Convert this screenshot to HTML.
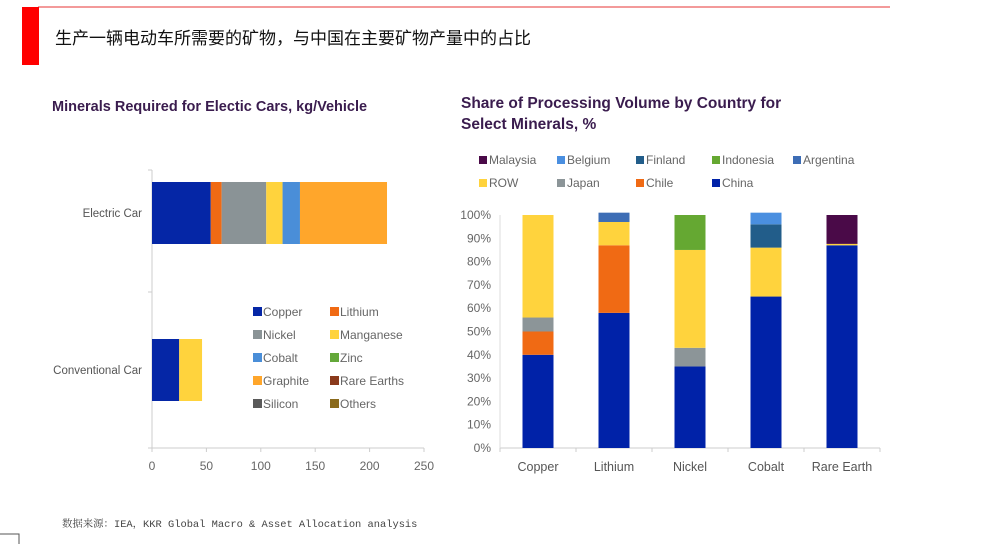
<!DOCTYPE html>
<html><head><meta charset="utf-8"><style>
body{margin:0;width:1000px;height:544px;background:#fff;overflow:hidden}
svg{display:block}
text{font-family:"Liberation Sans","Noto Sans CJK SC",sans-serif}
</style></head><body>
<svg id="s" width="1000" height="544" viewBox="0 0 1000 544">
<rect x="38" y="6" width="852" height="2" fill="#f39a9a"/>
<rect x="22" y="7" width="17" height="58" fill="#f00"/>
<text x="55" y="44" font-size="17" fill="#111">生产一辆电动车所需要的矿物，与中国在主要矿物产量中的占比</text>
<text x="52" y="111" font-size="14.5" font-weight="bold" fill="#3a1c4e">Minerals Required for Electic Cars, kg/Vehicle</text>
<text x="461" y="108" font-size="15.5" font-weight="bold" fill="#3a1c4e">Share of Processing Volume by Country for</text>
<text x="461" y="129" font-size="15.5" font-weight="bold" fill="#3a1c4e">Select Minerals, %</text>
<text x="62" y="527" font-size="10.4" fill="#444" style="font-family:'Liberation Mono','Noto Serif CJK SC',monospace">数据来源：IEA，KKR Global Macro &amp; Asset Allocation analysis</text>
<rect x="-1" y="534" width="20" height="12" fill="none" stroke="#555"/>
<g id="left"></g><g id="right"></g>
</svg>
<script>
// Left chart data
const leftCats = ["Electric Car","Conventional Car"];
const leftMinerals = ["Copper","Lithium","Nickel","Manganese","Cobalt","Zinc","Graphite","Rare Earths","Silicon","Others"];
const leftColors = ["#0526a6","#f06a14","#8a9396","#ffd33d","#4a8ed8","#64a83a","#ffa62b","#8a3a1c","#5a5a5a","#8a6a1c"];
const electricVals = [54,10,41,15,16,0,80,0,0,0];
const conventionalVals = [25,0,0,21,0,0,0,0,0,0];
const leftTicks = [0,50,100,150,200,250];
// Right chart data
const rightCats = ["Copper","Lithium","Nickel","Cobalt","Rare Earth"];
const countries = ["China","Chile","Japan","ROW","Argentina","Indonesia","Finland","Belgium","Malaysia"];
const countryColors = ["#0022a8","#f06a14","#8c9598","#ffd33d","#3d6db5","#65a832","#225d8a","#4a8fe0","#4a0a48"];
const chinaVals = [40,58,35,65,87];
const chileVals = [10,29,0,0,0];
const japanVals = [6,0,8,0,0];
const rowVals = [44,10,42,21,0.6];
const argentinaVals = [0,4,0,0,0];
const indonesiaVals = [0,0,15,0,0];
const finlandVals = [0,0,0,10,0];
const belgiumVals = [0,0,0,5,0];
const malaysiaVals = [0,0,0,0,12.4];
const rightTicks = [0,10,20,30,40,50,60,70,80,90,100];

const NS="http://www.w3.org/2000/svg";
function mk(p,tag,at,txt){const e=document.createElementNS(NS,tag);for(const k in at)e.setAttribute(k,at[k]);if(txt!==undefined)e.textContent=txt;p.appendChild(e);return e;}

// Left
const L=document.getElementById('left');
const lx=v=>152+v*(424-152)/250;
const lyC=[213,370], bh=62;
let ax=mk(L,'line',{x1:152,y1:170,x2:152,y2:448,stroke:'#ccc'});


ax=mk(L,'line',{x1:152,y1:448,x2:424,y2:448,stroke:'#ccc'});


[170,292,448].forEach(y=>{mk(L,'line',{x1:148,y1:y,x2:152,y2:y,stroke:'#ccc'});});
leftTicks.forEach(t=>{
  mk(L,'line',{x1:lx(t),y1:448,x2:lx(t),y2:452,stroke:'#ccc'});
  const e=mk(L,'text',{x:lx(t),y:470,'font-size':12,fill:'#666','text-anchor':'middle'},String(t));
  
  
});
[electricVals,conventionalVals].forEach((vals,ci)=>{
  const lab=mk(L,'text',{x:142,y:lyC[ci]+4,'font-size':11.5,fill:'#555','text-anchor':'end'},leftCats[ci]);
  
  
  let acc=0;
  vals.forEach((v,i)=>{ if(v<=0)return;
    const r=mk(L,'rect',{x:lx(acc),y:lyC[ci]-bh/2,width:lx(acc+v)-lx(acc),height:bh,fill:leftColors[i]});
    
    
    acc+=v;});
});
leftMinerals.forEach((m,i)=>{
  const x=i%2?330:253, y=312+Math.floor(i/2)*23;
  const g=mk(L,'g',{});
  
  
  mk(g,'rect',{x:x,y:y-5,width:9,height:9,fill:leftColors[i]});
  mk(g,'text',{x:x+10,y:y+4,'font-size':12,fill:'#666'},m);
});

// Right
const R=document.getElementById('right');
const ry=v=>448-v*(448-215)/100;
const cx=i=>538+i*76;
const series=[chinaVals,chileVals,japanVals,rowVals,argentinaVals,indonesiaVals,finlandVals,belgiumVals,malaysiaVals];
ax=mk(R,'line',{x1:500,y1:448,x2:880,y2:448,stroke:'#ccc'});


ax=mk(R,'line',{x1:500,y1:215,x2:500,y2:448,stroke:'#ddd'});


rightTicks.forEach(t=>{
  const e=mk(R,'text',{x:491,y:ry(t)+4,'font-size':12,fill:'#666','text-anchor':'end'},t+'%');
  
  
});
for(let k=0;k<=5;k++)mk(R,'line',{x1:500+k*76,y1:448,x2:500+k*76,y2:452,stroke:'#ccc'});
rightCats.forEach((c,i)=>{
  const e=mk(R,'text',{x:cx(i),y:471,'font-size':12.5,fill:'#555','text-anchor':'middle'},c);
  
  
  let acc=0;
  series.forEach((vals,si)=>{const v=vals[i]; if(v<=0)return;
    const r=mk(R,'rect',{x:cx(i)-15.5,y:ry(acc+v),width:31,height:ry(acc)-ry(acc+v),fill:countryColors[si]});
    
    
    acc+=v;});
});
const legOrder=["Malaysia","Belgium","Finland","Indonesia","Argentina","ROW","Japan","Chile","China"];
const legX=[479,557,636,712,793];
legOrder.forEach((n,i)=>{
  const x=legX[i%5], y=i<5?160:183, ci=countries.indexOf(n);
  const g=mk(R,'g',{});
  
  
  mk(g,'rect',{x:x,y:y-4,width:8,height:8,fill:countryColors[ci]});
  mk(g,'text',{x:x+10,y:y+4,'font-size':12,fill:'#666'},n);
});
</script>
</body></html>
